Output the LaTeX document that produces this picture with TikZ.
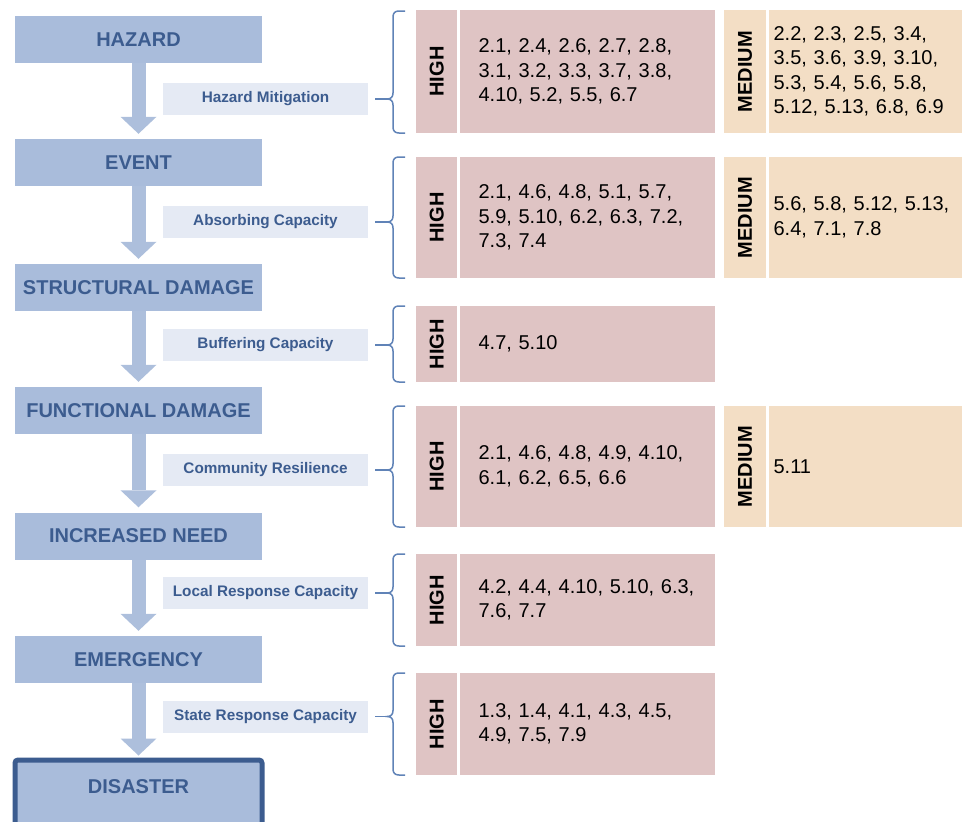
\documentclass[tikz,border=0pt]{standalone}
\usepackage{fontspec}
\setmainfont{Liberation Sans}
\usetikzlibrary{positioning,arrows.meta}

\definecolor{stageblue}{HTML}{A9BCDB}
\definecolor{stagetext}{HTML}{3C5C8F}
\definecolor{flowblue}{HTML}{ADBFDC}
\definecolor{capacityfill}{HTML}{E5EAF4}
\definecolor{braceblue}{HTML}{6083B7}
\definecolor{highfill}{HTML}{DFC4C4}
\definecolor{mediumfill}{HTML}{F3DEC5}

\begin{document}
\begin{tikzpicture}[x=1pt,y=-1pt,
    stagename/.style={text=stagetext,font=\fontsize{20}{24}\selectfont\bfseries},
    stage/.style={stagename,fill=stageblue,minimum width=247pt,minimum height=47pt,inner sep=0pt},
    capacity/.style={fill=capacityfill,minimum width=205pt,minimum height=32pt,inner sep=0pt,text=stagetext,font=\fontsize{15.3}{18}\selectfont\bfseries},
    flow/.style={draw=flowblue,line width=14pt,-{Triangle[width=36pt,length=17pt,line width=0pt]},shorten >=5pt},
    brace/.style={draw=braceblue,line width=1.5pt},
    high/.style={fill=highfill,minimum width=41pt,inner sep=0pt,anchor=west},
    medium/.style={fill=mediumfill,minimum width=42pt,inner sep=0pt,anchor=west},
    rating/.style={rotate=90,font=\fontsize{20}{24}\selectfont\bfseries},
    highlist/.style={fill=highfill,align=left,text width=217pt,inner xsep=19pt,inner ysep=0pt,font=\fontsize{20}{24.5}\selectfont},
    mediumlist/.style={fill=mediumfill,align=left,text width=189pt,inner xsep=5pt,inner ysep=0pt,font=\fontsize{20}{24.5}\selectfont}
    ]

  \useasboundingbox (0,0) rectangle (962,822);
  \clip (0,0) rectangle (962,822);

  \node(hazard) [stage] at (138.5,39.5) {HAZARD};
  \node(event) [stage] at (138.5,162.5) {EVENT};
  \node(structural) [stage] at (138.5,287.5) {STRUCTURAL DAMAGE};
  \node(functional) [stage] at (138.5,410.5) {FUNCTIONAL DAMAGE};
  \node(need) [stage] at (138.5,536) {INCREASED NEED};
  \node(emergency) [stage] at (138.5,659.5) {EMERGENCY};
  \node(disaster) [stage,draw=stagetext,line width=5pt,rounded corners=3pt,minimum height=95pt,anchor=north] at (138.5,757.5) {};
  \node(disasterName) [stagename,yshift=-29.5pt] at (disaster.north) {DISASTER};

  \draw[flow] (hazard) -- (event);
  \draw[flow] (event) -- (structural);
  \draw[flow] (structural) -- (functional);
  \draw[flow] (functional) -- (need);
  \draw[flow] (need) -- (emergency);
  \draw[flow,shorten >=2pt] (emergency) -- (disaster);

  \node(hazardMitigation) [capacity] at (265.5,99) {Hazard Mitigation};
  \node(absorbing) [capacity] at (265.5,222) {Absorbing Capacity};
  \node(buffering) [capacity] at (265.5,345) {Buffering Capacity};
  \node(resilience) [capacity] at (265.5,470) {Community Resilience};
  \node(localResponse) [capacity] at (265.5,593) {Local Response Capacity};
  \node(stateResponse) [capacity] at (265.5,716.5) {State Response Capacity};

  \node(high1) [high,minimum height=123pt] at (416,71.5) {};
  \node(high1Name) [rating] at (high1) {HIGH};
  \node(high1List) [highlist,minimum height=123pt,right=2pt of high1] {2.1, 2.4, 2.6, 2.7, 2.8,\\3.1, 3.2, 3.3, 3.7, 3.8,\\4.10, 5.2, 5.5, 6.7};
  \node(medium1) [medium,minimum height=123pt] at (724,71.5) {};
  \node(medium1Name) [rating] at (medium1) {MEDIUM};
  \node(medium1List) [mediumlist,minimum height=123pt,right=2pt of medium1] {2.2, 2.3, 2.5, 3.4,\\3.5, 3.6, 3.9, 3.10,\\5.3, 5.4, 5.6, 5.8,\\5.12, 5.13, 6.8, 6.9};

  \node(high2) [high,minimum height=121pt] at (416,217.5) {};
  \node(high2Name) [rating] at (high2) {HIGH};
  \node(high2List) [highlist,minimum height=121pt,right=2pt of high2] {2.1, 4.6, 4.8, 5.1, 5.7,\\5.9, 5.10, 6.2, 6.3, 7.2,\\7.3, 7.4};
  \node(medium2) [medium,minimum height=121pt] at (724,217.5) {};
  \node(medium2Name) [rating] at (medium2) {MEDIUM};
  \node(medium2List) [mediumlist,minimum height=121pt,right=2pt of medium2] {5.6, 5.8, 5.12, 5.13,\\6.4, 7.1, 7.8};

  \node(high3) [high,minimum height=76pt] at (416,344) {};
  \node(high3Name) [rating] at (high3) {HIGH};
  \node(high3List) [highlist,minimum height=76pt,right=2pt of high3] {4.7, 5.10};

  \node(high4) [high,minimum height=121pt] at (416,466.5) {};
  \node(high4Name) [rating] at (high4) {HIGH};
  \node(high4List) [highlist,minimum height=121pt,right=2pt of high4] {2.1, 4.6, 4.8, 4.9, 4.10,\\6.1, 6.2, 6.5, 6.6};
  \node(medium4) [medium,minimum height=121pt] at (724,466.5) {};
  \node(medium4Name) [rating] at (medium4) {MEDIUM};
  \node(medium4List) [mediumlist,minimum height=121pt,right=2pt of medium4] {5.11};

  \node(high5) [high,minimum height=92pt] at (416,600) {};
  \node(high5Name) [rating] at (high5) {HIGH};
  \node(high5List) [highlist,minimum height=92pt,right=2pt of high5] {4.2, 4.4, 4.10, 5.10, 6.3,\\7.6, 7.7};

  \node(high6) [high,minimum height=102pt] at (416,724) {};
  \node(high6Name) [rating] at (high6) {HIGH};
  \node(high6List) [highlist,minimum height=102pt,right=2pt of high6] {1.3, 1.4, 4.1, 4.3, 4.5,\\4.9, 7.5, 7.9};

  \coordinate(cusp1) at (387,99);
  \coordinate(cusp2) at (387,222);
  \coordinate(cusp3) at (387,345);
  \coordinate(cusp4) at (387,470);
  \coordinate(cusp5) at (387,593);
  \coordinate(cusp6) at (387,716.5);

  \draw[brace] (405,11) -- (399,11) .. controls (395,11) and (393,13) .. (393,17) -- (393,93) .. controls (393,97) and (391,99) .. (cusp1) .. controls (391,99) and (393,101) .. (393,105) -- (393,127) .. controls (393,131) and (395,133) .. (399,133) -- (405,133);
  \draw[brace] (405,157) -- (399,157) .. controls (395,157) and (393,159) .. (393,163) -- (393,216) .. controls (393,220) and (391,222) .. (cusp2) .. controls (391,222) and (393,224) .. (393,228) -- (393,272) .. controls (393,276) and (395,278) .. (399,278) -- (405,278);
  \draw[brace] (405,306) -- (399,306) .. controls (395,306) and (393,308) .. (393,312) -- (393,339) .. controls (393,343) and (391,345) .. (cusp3) .. controls (391,345) and (393,347) .. (393,351) -- (393,376) .. controls (393,380) and (395,382) .. (399,382) -- (405,382);
  \draw[brace] (405,406) -- (399,406) .. controls (395,406) and (393,408) .. (393,412) -- (393,464) .. controls (393,468) and (391,470) .. (cusp4) .. controls (391,470) and (393,472) .. (393,476) -- (393,521) .. controls (393,525) and (395,527) .. (399,527) -- (405,527);
  \draw[brace] (405,554) -- (399,554) .. controls (395,554) and (393,556) .. (393,560) -- (393,587) .. controls (393,591) and (391,593) .. (cusp5) .. controls (391,593) and (393,595) .. (393,599) -- (393,640) .. controls (393,644) and (395,646) .. (399,646) -- (405,646);
  \draw[brace] (405,673) -- (399,673) .. controls (395,673) and (393,675) .. (393,679) -- (393,710.5) .. controls (393,714.5) and (391,716.5) .. (cusp6) .. controls (391,716.5) and (393,718.5) .. (393,722.5) -- (393,769) .. controls (393,773) and (395,775) .. (399,775) -- (405,775);

  \draw[brace] ([xshift=7pt]hazardMitigation.east) -- (cusp1);
  \draw[brace] ([xshift=7pt]absorbing.east) -- (cusp2);
  \draw[brace] ([xshift=7pt]buffering.east) -- (cusp3);
  \draw[brace] ([xshift=7pt]resilience.east) -- (cusp4);
  \draw[brace] ([xshift=7pt]localResponse.east) -- (cusp5);
  \draw[brace] ([xshift=7pt]stateResponse.east) -- (cusp6);

\end{tikzpicture}
\end{document}
